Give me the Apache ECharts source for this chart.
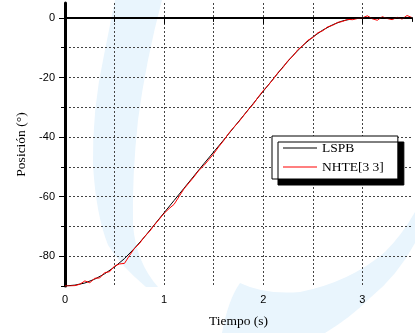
<!DOCTYPE html>
<html><head><meta charset="utf-8">
<script src="https://cdn.jsdelivr.net/npm/echarts@6/dist/echarts.min.js"></script>
<style>
html,body{margin:0;padding:0;background:#fff}
#wrap{position:relative;width:415px;height:333px}
#wm{position:absolute;left:0;top:0;width:415px;height:333px}
#c{position:absolute;left:0;top:0;width:415px;height:333px}
</style>
</head><body><div id="wrap">
<svg id="wm" width="415" height="333" viewBox="0 0 415 333">
  <path fill="#e9f5fd" d="M115,0 L162,0 Q146,60 138,120 Q132,175 133,225 Q136,262 158,287 L146,287 Q120,265 108,245 Q96,215 93,165 Q92,110 104,55 Z"/>
  <path fill="#e9f5fd" d="M222,333 Q228,300 240,283 Q265,295 300,292 Q350,282 385,252 Q402,235 415,212 L415,243 Q398,275 370,298 Q350,318 325,333 Z"/>
</svg>
<div id="c"></div></div>
<script>
const tBlack = [0,0.1,0.2,0.3,0.4,0.5,0.6,0.7,0.8,0.9,1.0,1.1,1.2,1.3,1.4,1.5,1.6,1.7,1.8,1.9,2.0,2.1,2.2,2.3,2.4,2.5,2.6,2.7,2.8,2.9,3.0,3.1,3.2,3.3,3.4,3.5];
const vBlack = [-90,-89.7,-89.0,-87.7,-85.9,-83.6,-80.8,-77.4,-73.6,-69.5,-65.4,-61.3,-57.2,-53.1,-49.0,-45.0,-41.0,-36.9,-32.8,-28.7,-24.6,-20.5,-16.4,-12.6,-9.2,-6.4,-4.1,-2.3,-1.0,-0.3,0,0,0,0,0,0];
const tRed = [0,0.05,0.1,0.15,0.2,0.25,0.3,0.35,0.4,0.45,0.5,0.55,0.6,0.65,0.7,0.75,0.8,0.85,0.9,0.95,1.0,1.05,1.1,1.15,1.2,1.25,1.3,1.35,1.4,1.45,1.5,1.55,1.6,1.65,1.7,1.75,1.8,1.85,1.9,1.95,2.0,2.05,2.1,2.15,2.2,2.25,2.3,2.35,2.4,2.45,2.5,2.55,2.6,2.65,2.7,2.75,2.8,2.85,2.9,2.95,3.0,3.05,3.1,3.15,3.2,3.25,3.3,3.35,3.4,3.45,3.5];
const vRed = [-90,-90,-89.9,-89.4,-88.3,-88.9,-87.4,-87.3,-85.5,-85.2,-83.3,-82.6,-82.4,-79.8,-77.4,-75.8,-73.5,-71.8,-69.6,-67.6,-65.6,-64.0,-62.6,-60.0,-57.4,-55.4,-53.4,-51.2,-49.6,-47.6,-45.6,-43.3,-41.2,-38.8,-36.8,-35.0,-32.9,-30.8,-28.9,-26.5,-24.4,-22.6,-20.6,-18.3,-16.6,-14.3,-12.8,-10.6,-9.3,-7.5,-6.6,-5.0,-4.3,-3.0,-2.5,-1.5,-1.2,-0.5,-0.6,-0.2,0.0,0.7,-0.3,-0.8,0.4,-0.2,-0.6,0.2,-0.4,0.8,0.1];
const yLabels = [-80,-60,-40,-20,0];
const xLabels = [0,1,2,3];
const seriesNames = ['LSPB','NHTE[3 3]'];

const chart = echarts.init(document.getElementById('c'), null, {renderer:'canvas'});
const sans = 'Liberation Sans, Arial, sans-serif';
const serif = 'Liberation Serif, Times New Roman, serif';
const grid = {type:[2,2], color:'#444', width:1};
chart.setOption({
  animation:false,
  backgroundColor:'transparent',
  grid:{left:65, right:3, top:3, bottom:46, containLabel:false},
  legend:{
    orient:'vertical', left:272, top:136,
    data:seriesNames.map(n=>({name:n, icon:'rect'})),
    backgroundColor:'#fff', borderColor:'#000', borderWidth:1,
    shadowColor:'#000', shadowBlur:0, shadowOffsetX:6, shadowOffsetY:6,
    padding:[4,14,4,11], itemGap:3, itemWidth:34, itemHeight:1.2,
    textStyle:{fontFamily:serif, fontSize:13.5, color:'#000', lineHeight:16}
  },
  xAxis:[{
    type:'value', min:0, max:3.5, interval:0.5,
    name:'Tiempo (s)', nameLocation:'middle', nameGap:28,
    nameTextStyle:{fontFamily:serif, fontSize:13.5, color:'#000'},
    axisLine:{show:true, lineStyle:{color:'#000', width:2}},
    axisTick:{show:true, length:4, lineStyle:{color:'#000', width:1}},
    axisLabel:{customValues:xLabels, fontFamily:sans, fontSize:11, color:'#000', margin:8},
    splitLine:{show:true, showMinLine:false, showMaxLine:false, lineStyle:grid}
  },{
    type:'value', min:0, max:3.5, position:'bottom',
    axisLine:{show:false}, axisLabel:{show:false}, splitLine:{show:false},
    axisTick:{show:true, customValues:xLabels, length:6, lineStyle:{color:'#000', width:1}}
  }],
  yAxis:[{
    type:'value', min:-90, max:5, interval:10,
    name:'Posición (°)', nameLocation:'middle', nameGap:31,
    nameTextStyle:{fontFamily:serif, fontSize:13.5, color:'#000'},
    axisLine:{show:true, lineStyle:{color:'#000', width:3}},
    axisTick:{show:true, length:4, customValues:[-90,-80,-70,-60,-50,-40,-30,-20,-10,0], lineStyle:{color:'#000', width:1}},
    axisLabel:{customValues:yLabels, fontFamily:sans, fontSize:11, color:'#000', margin:10},
    splitLine:{show:true, showMinLine:false, showMaxLine:false, lineStyle:grid}
  },{
    type:'value', min:-90, max:5, position:'left',
    axisLine:{show:false}, axisLabel:{show:false}, splitLine:{show:false},
    axisTick:{show:true, customValues:yLabels, length:6, lineStyle:{color:'#000', width:1}}
  }],
  series:[{
    name:seriesNames[0], type:'line', symbol:'none', smooth:false,
    data:tBlack.map((t,i)=>[t,vBlack[i]]),
    lineStyle:{color:'#000', width:1}, itemStyle:{color:'#000'}, z:3,
    markLine:{silent:true, symbol:'none', label:{show:false},
      lineStyle:{color:'#000', width:1.5, type:'solid'}, data:[{yAxis:0}]}
  },{
    name:seriesNames[1], type:'line', symbol:'none', smooth:false,
    data:tRed.map((t,i)=>[t,vRed[i]]),
    lineStyle:{color:'#f00', width:1}, itemStyle:{color:'#f00'}, z:4
  }]
});
</script></body></html>
